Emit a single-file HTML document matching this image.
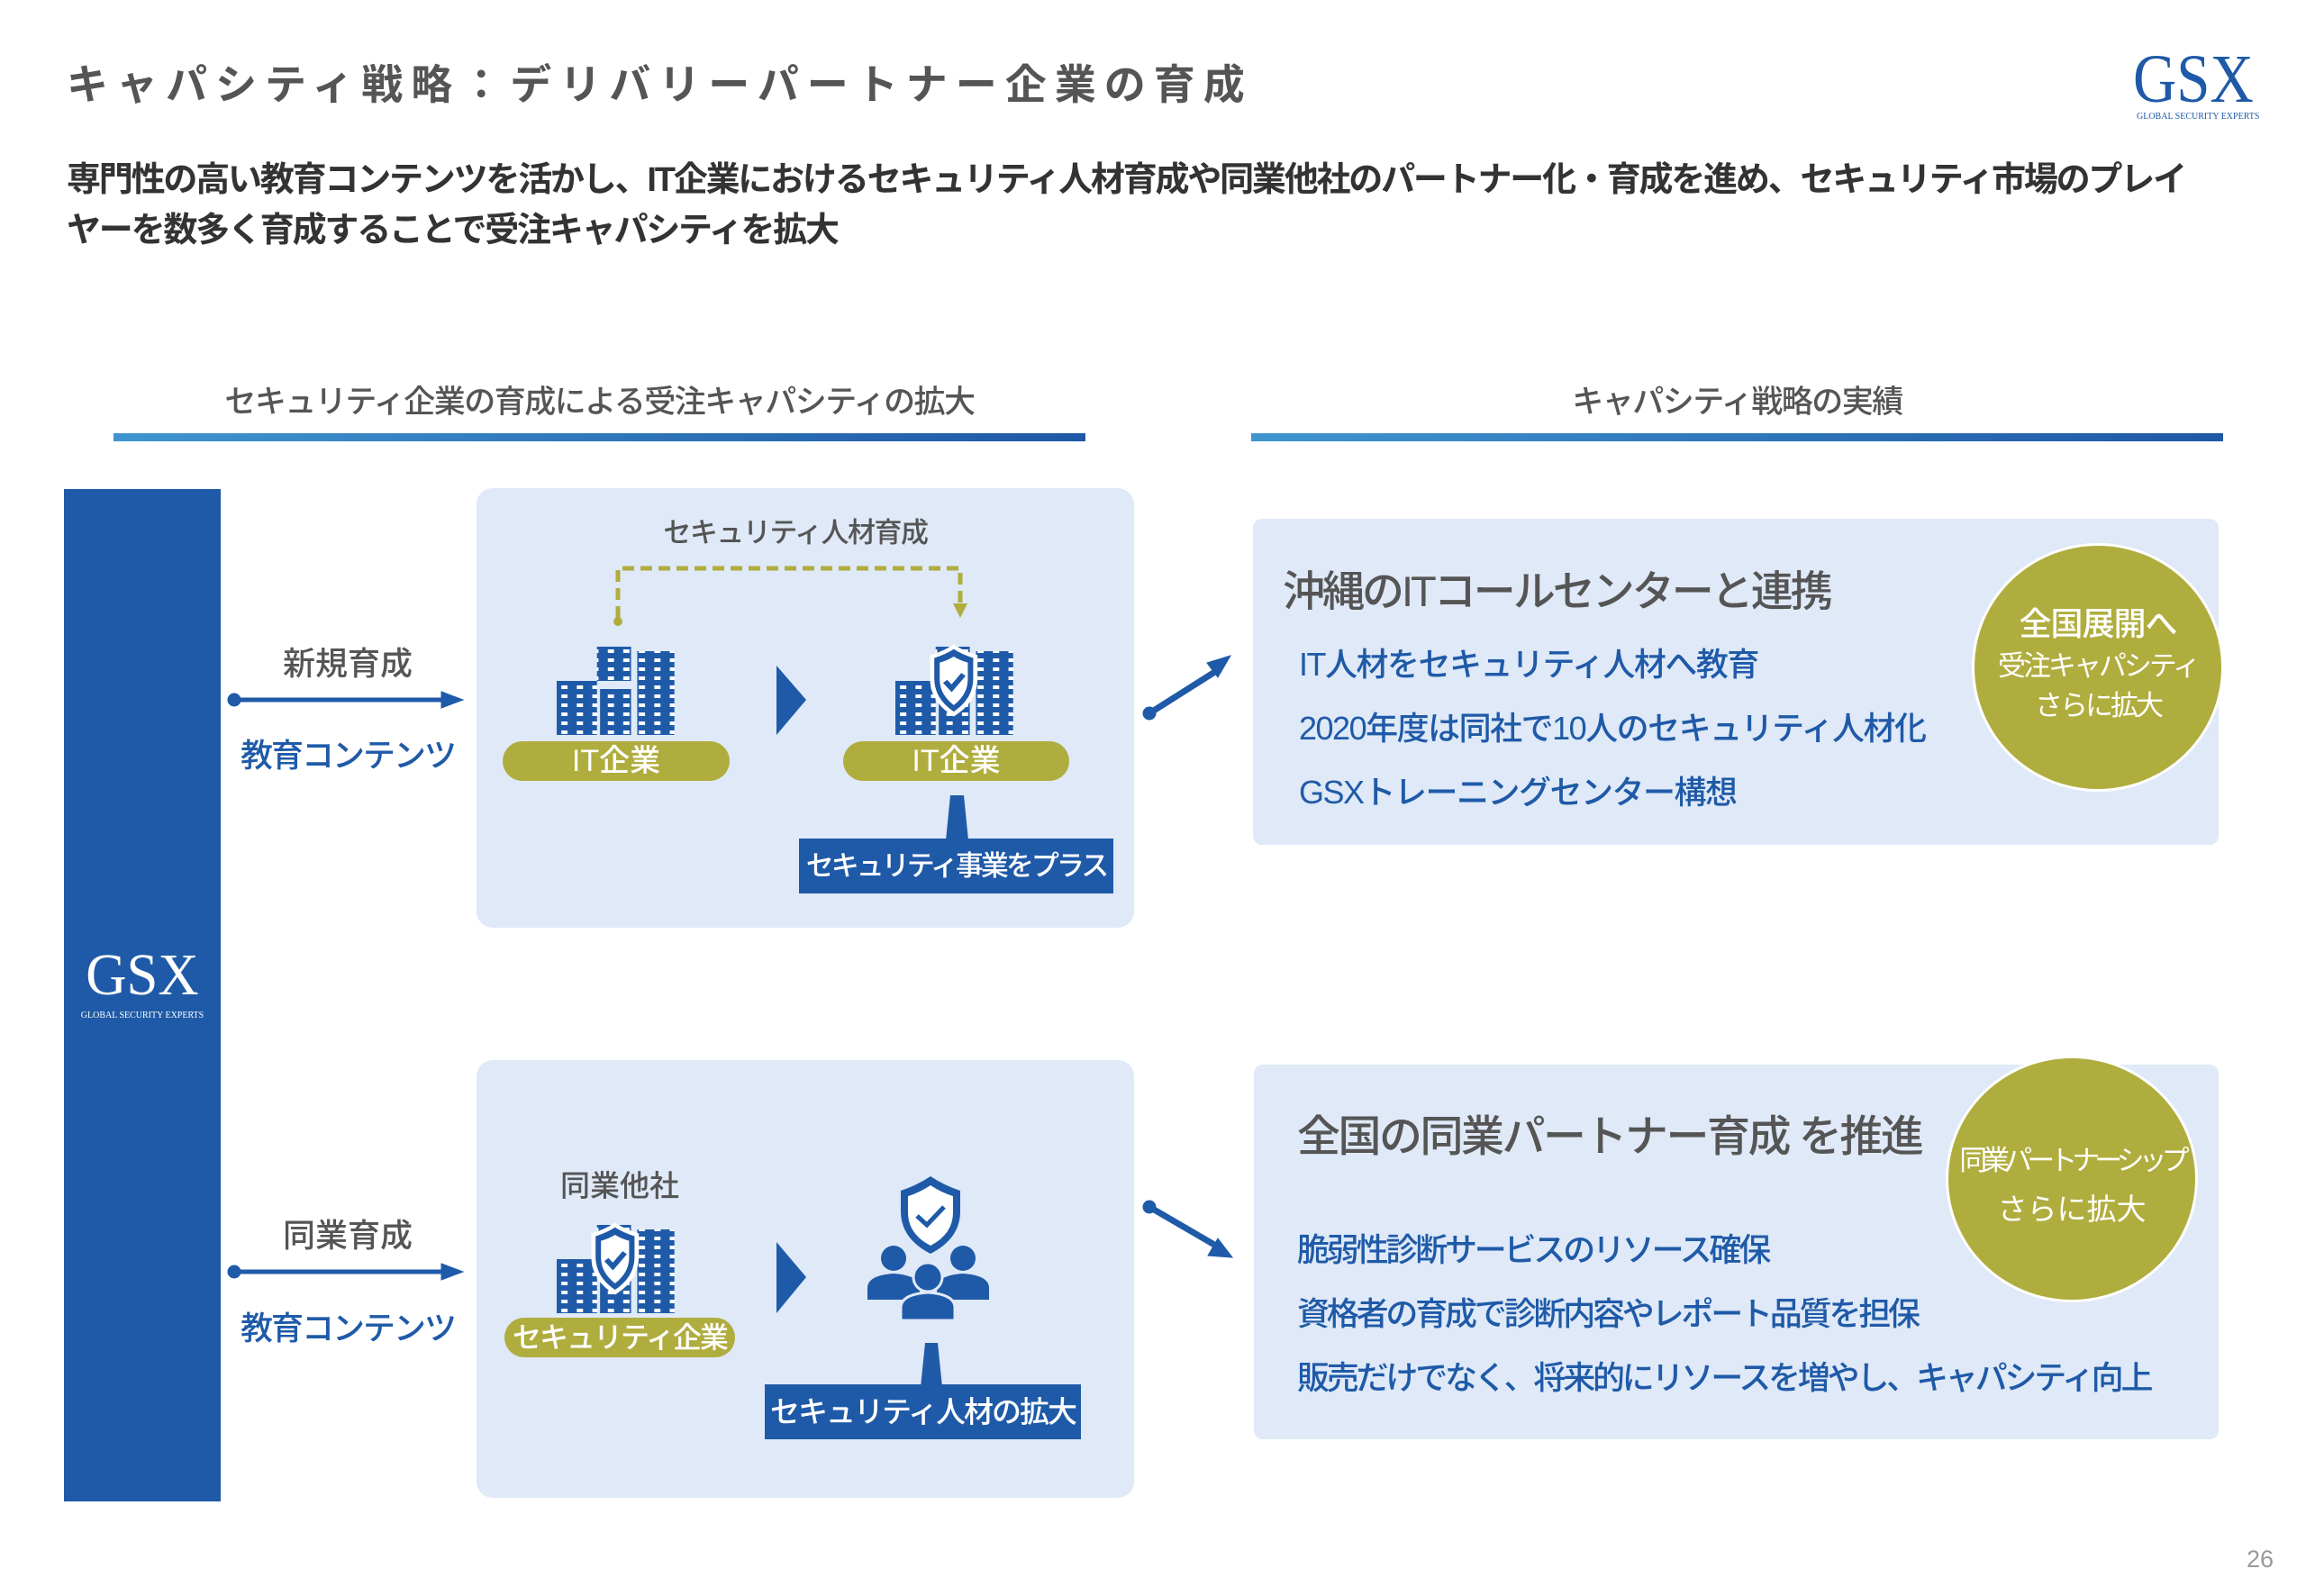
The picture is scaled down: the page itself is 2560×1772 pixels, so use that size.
<!DOCTYPE html>
<html><head><meta charset="utf-8"><style>
*{margin:0;padding:0;box-sizing:border-box}
body{width:2560px;height:1772px;background:#fff;position:relative;overflow:hidden;font-family:"Liberation Sans","Noto Sans CJK JP",sans-serif}
.a{position:absolute;white-space:nowrap}
.box{position:absolute;background:#dfe9f7;border-radius:18px}
.pill{position:absolute;background:#b0ad3f;border-radius:30px;color:#fff;font-size:34px;font-weight:500;text-align:center;white-space:nowrap}
.bb{position:absolute;background:#1f5aa8;color:#fff;font-size:33px;font-weight:500;text-align:center;white-space:nowrap;letter-spacing:-2px}
.bar{position:absolute;height:9px;background:linear-gradient(90deg,#3f95cf,#1f58a6)}
.c{text-align:center}
.blue{color:#1f5aa8}
</style></head><body>
<svg width="0" height="0" style="position:absolute">
<defs>
<pattern id="win" width="10" height="10" patternUnits="userSpaceOnUse"><rect width="10" height="10" fill="#1f5aa8"/><rect x="3" y="3" width="4" height="4" fill="#fff"/></pattern>
<g id="bld">
<rect x="26" y="0" width="22" height="38" fill="url(#win)"/>
<rect x="0" y="38" width="26" height="60" fill="url(#win)"/>
<rect x="28" y="47" width="20" height="51" fill="url(#win)"/>
<rect x="52" y="5" width="24" height="93" fill="url(#win)"/>
</g>
<g id="shield"><path d="M38 30 Q50 26 58 20 Q66 26 78 30 L78 52 Q78 74 58 88 Q38 74 38 52 Z" fill="#1f5aa8" stroke="#fff" stroke-width="4"/><path d="M45 36 Q52 34 58 30 Q64 34 71 36 L71 53 Q71 68 58 79 Q45 68 45 53 Z" fill="#fff"/><path d="M50 55 L56 62 L67 48" fill="none" stroke="#1f5aa8" stroke-width="5"/></g>
</defs></svg>

<div class="a" style="left:74px;top:58px;font-size:46px;letter-spacing:9px;color:#555;font-weight:700">キャパシティ戦略：デリバリーパートナー企業の育成</div>
<div class="a" style="left:2368px;top:50px;font-family:'Liberation Serif',serif;font-size:76px;color:#1f5aa8;line-height:76px;transform:scaleX(0.88);transform-origin:left">GSX</div>
<div class="a" style="left:2372px;top:124px;font-family:'Liberation Serif',serif;font-size:10px;color:#1f5aa8">GLOBAL SECURITY EXPERTS</div>

<div class="a" style="left:74px;top:172px;font-size:38px;line-height:56px;color:#333;font-weight:700;letter-spacing:-2.2px">専門性の高い教育コンテンツを活かし、IT企業におけるセキュリティ人材育成や同業他社のパートナー化・育成を進め、セキュリティ市場のプレイ<br>ヤーを数多く育成することで受注キャパシティを拡大</div>

<div class="a c" style="left:126px;width:1079px;top:418px;font-size:35px;color:#555;font-weight:500;letter-spacing:-1.5px">セキュリティ企業の育成による受注キャパシティの拡大</div>
<div class="a c" style="left:1389px;width:1079px;top:418px;font-size:35px;color:#555;font-weight:500;letter-spacing:-1.5px">キャパシティ戦略の実績</div>
<div class="bar" style="left:126px;width:1079px;top:481px"></div>
<div class="bar" style="left:1389px;width:1079px;top:481px"></div>

<div class="a" style="left:71px;top:543px;width:174px;height:1124px;background:#1f5aa8"></div>
<div class="a c" style="left:71px;width:174px;top:1050px;font-family:'Liberation Serif',serif;font-size:66px;color:#fff;line-height:66px;transform:scaleX(0.95)">GSX</div>
<div class="a c" style="left:71px;width:174px;top:1122px;font-family:'Liberation Serif',serif;font-size:10px;color:#fff">GLOBAL SECURITY EXPERTS</div>

<div class="box" style="left:529px;top:542px;width:730px;height:488px"></div>
<div class="box" style="left:529px;top:1177px;width:730px;height:486px"></div>

<div class="a c" style="left:286px;width:200px;top:708px;font-size:36px;color:#555;font-weight:500">新規育成</div>
<div class="a c" style="left:246px;width:280px;top:810px;font-size:36px;font-weight:500;letter-spacing:-2px"><span class="blue">教育コンテンツ</span></div>
<div class="a c" style="left:286px;width:200px;top:1343px;font-size:36px;color:#555;font-weight:500">同業育成</div>
<div class="a c" style="left:246px;width:280px;top:1446px;font-size:36px;font-weight:500;letter-spacing:-2px"><span class="blue">教育コンテンツ</span></div>

<svg class="a" style="left:0;top:0" width="2560" height="1772">
<g fill="#1f5aa8" stroke="#1f5aa8">
<circle cx="260" cy="777" r="7"/><line x1="260" y1="777" x2="500" y2="777" stroke-width="5"/><path d="M490 768 L514 777 L490 786 Z"/>
<circle cx="260" cy="1412" r="7"/><line x1="260" y1="1412" x2="500" y2="1412" stroke-width="5"/><path d="M490 1403 L514 1412 L490 1421 Z"/>
<circle cx="1276" cy="792" r="7"/><line x1="1276" y1="792" x2="1355" y2="742" stroke-width="7"/><path d="M1340 736 L1366 728 L1352 752 Z"/>
<circle cx="1276" cy="1340" r="7"/><line x1="1276" y1="1340" x2="1355" y2="1386" stroke-width="7"/><path d="M1352 1375 L1368 1396 L1341 1394 Z"/>
</g>
<g fill="#1f5aa8">
<path d="M862 739 L895 777 L862 816 Z"/>
<path d="M862 1379 L895 1418 L862 1458 Z"/>
<path d="M1055 883 L1070 883 L1075 933 L1050 933 Z"/>
<path d="M1027 1491 L1041 1491 L1046 1540 L1022 1540 Z"/>
</g>
<g fill="none" stroke="#b0ad3f" stroke-width="5" stroke-dasharray="13 7">
<polyline points="686,686 686,631 1066,631 1066,672"/>
</g>
<circle cx="686" cy="690" r="5" fill="#b0ad3f"/>
<path d="M1058 670 L1066 686 L1074 670 Z" fill="#b0ad3f"/>
<g transform="translate(618,718) scale(1.72,1)"><use href="#bld"/></g>
<g transform="translate(994,718) scale(1.72,1)"><use href="#bld"/></g>
<g transform="translate(1006,718) scale(1.2,1.1) translate(-14,-20)"><use href="#shield"/></g>
<g transform="translate(618,1360) scale(1.72,1)"><use href="#bld"/></g>
<g transform="translate(630,1360) scale(1.2,1.1) translate(-14,-20)"><use href="#shield"/></g>
<path d="M1000 1322 Q1018 1316 1033 1306 Q1048 1316 1066 1322 L1066 1345 Q1066 1375 1033 1392 Q1000 1375 1000 1345 Z" fill="#1f5aa8"/>
<path d="M1008 1328 Q1021 1324 1033 1316 Q1045 1324 1058 1328 L1058 1346 Q1058 1370 1033 1383 Q1008 1370 1008 1346 Z" fill="#fff"/>
<path d="M1018 1350 L1029 1360 L1048 1340" fill="none" stroke="#1f5aa8" stroke-width="5"/>
<g fill="#1f5aa8">
<circle cx="992" cy="1397" r="14"/><path d="M963 1443 L963 1430 Q963 1416 992 1414 Q1021 1416 1021 1430 L1021 1443 Z"/>
<circle cx="1069" cy="1397" r="14"/><path d="M1040 1443 L1040 1430 Q1040 1416 1069 1414 Q1098 1416 1098 1430 L1098 1443 Z"/>
<circle cx="1030" cy="1418" r="16" stroke="#dfe9f7" stroke-width="3"/><path d="M1000 1466 L1000 1452 Q1000 1437 1030 1435 Q1060 1437 1060 1452 L1060 1466 Z" stroke="#dfe9f7" stroke-width="3"/>
</g>
</svg>

<div class="a c" style="left:700px;width:366px;top:566px;font-size:31px;color:#555;font-weight:500;letter-spacing:-1.5px">セキュリティ人材育成</div>
<div class="pill" style="left:558px;top:823px;width:252px;height:44px;line-height:44px">IT企業</div>
<div class="pill" style="left:936px;top:823px;width:251px;height:44px;line-height:44px">IT企業</div>
<div class="bb" style="left:887px;top:931px;width:349px;height:61px;line-height:61px;font-size:31px;letter-spacing:-3px">セキュリティ事業をプラス</div>

<div class="a c" style="left:568px;width:240px;top:1290px;font-size:33px;color:#555;font-weight:500">同業他社</div>
<div class="pill" style="left:560px;top:1463px;width:256px;height:44px;line-height:44px;font-size:32px;letter-spacing:-2px">セキュリティ企業</div>
<div class="bb" style="left:849px;top:1537px;width:351px;height:61px;line-height:61px">セキュリティ人材の拡大</div>

<div class="a" style="left:1391px;top:576px;width:1072px;height:362px;background:#dfe9f7;border-radius:10px"></div>
<div class="a" style="left:1424px;top:618px;font-size:47px;color:#555;font-weight:500;letter-spacing:-3px">沖縄のITコールセンターと連携</div>
<div class="a blue" style="left:1442px;top:702px;font-size:36px;line-height:71px;font-weight:500;letter-spacing:-1.5px">IT人材をセキュリティ人材へ教育<br>2020年度は同社で10人のセキュリティ人材化<br>GSXトレーニングセンター構想</div>
<div class="a c" style="left:2189px;top:603px;width:280px;height:276px;border-radius:50%;background:#b0ad3f;border:3px solid #fff;color:#fff">
<div style="margin-top:62px;font-size:36px;line-height:50px;font-weight:500;letter-spacing:-1px">全国展開へ</div>
<div style="font-size:31px;line-height:44px;letter-spacing:-3px">受注キャパシティ<br>さらに拡大</div></div>

<div class="a" style="left:1392px;top:1182px;width:1071px;height:416px;background:#dfe9f7;border-radius:10px"></div>
<div class="a" style="left:1440px;top:1222px;font-size:48px;color:#555;font-weight:500;letter-spacing:-2.5px">全国の同業パートナー育成 を推進</div>
<div class="a blue" style="left:1440px;top:1352px;font-size:36px;line-height:71px;font-weight:500;letter-spacing:-3.2px">脆弱性診断サービスのリソース確保<br>資格者の育成で診断内容やレポート品質を担保<br>販売だけでなく、将来的にリソースを増やし、キャパシティ向上</div>
<div class="a c" style="left:2160px;top:1172px;width:280px;height:274px;border-radius:50%;background:#b0ad3f;border:3px solid #fff;color:#fff">
<div style="margin-top:88px;font-size:31px;line-height:52px;letter-spacing:-6px">同業パートナーシップ</div>
<div style="font-size:33px;line-height:56px">さらに拡大</div></div>

<div class="a" style="left:2494px;top:1716px;font-size:27px;color:#999">26</div>
</body></html>
